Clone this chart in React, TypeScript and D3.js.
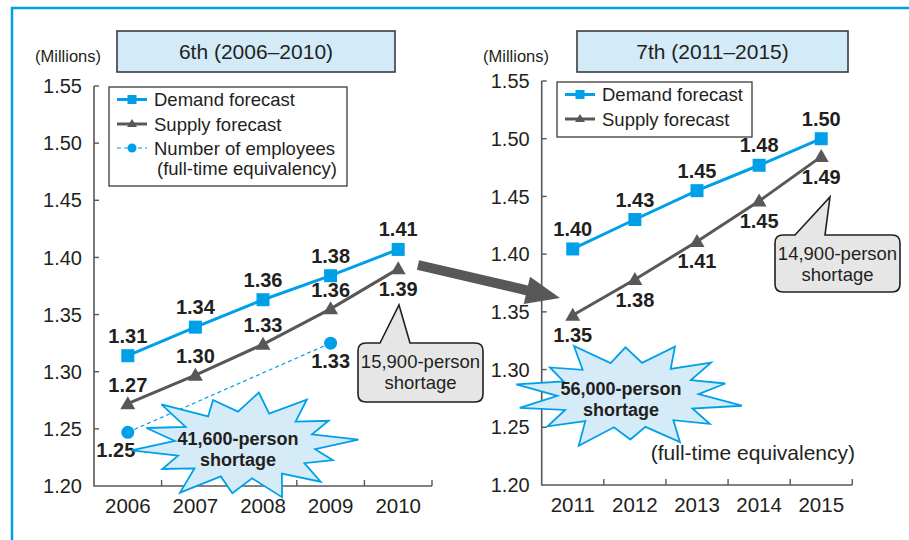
import React from "react";
import * as d3 from "d3";

// ---- data ----
const years6 = ["2006", "2007", "2008", "2009", "2010"];
const demand6 = [1.314, 1.339, 1.363, 1.384, 1.407];
const supply6 = [1.272, 1.297, 1.324, 1.355, 1.39];
const employeeYears6 = ["2006", "2009"];
const employees6 = [1.247, 1.325];
const demandLabels6 = ["1.31", "1.34", "1.36", "1.38", "1.41"];
const supplyLabels6 = ["1.27", "1.30", "1.33", "1.36", "1.39"];
const employeeLabels6 = ["1.25", "1.33"];

const years7 = ["2011", "2012", "2013", "2014", "2015"];
const demand7 = [1.4045, 1.43, 1.455, 1.477, 1.5];
const supply7 = [1.347, 1.378, 1.411, 1.446, 1.4845];
const demandLabels7 = ["1.40", "1.43", "1.45", "1.48", "1.50"];
const supplyLabels7 = ["1.35", "1.38", "1.41", "1.45", "1.49"];

const yTicks = [1.2, 1.25, 1.3, 1.35, 1.4, 1.45, 1.5, 1.55];

// label placement (layout, not data)
const supplyPlace6 = ["above", "above", "above", "above", "below"];
const supplyPlace7 = ["below", "below", "below", "below", "below"];
const employeeDx6 = [-12, 0];

const BLUE = "#00a0e9";
const GRAY = "#595757";
const TEXT = "#231f20";
const FONT = "'Liberation Sans', Arial, Helvetica, sans-serif";

function triPath(x: number, y: number) {
  return `M${x},${y - 7.5}L${x + 7.5},${y + 5.5}L${x - 7.5},${y + 5.5}Z`;
}

function starPath(cx: number, cy: number, rx: number, ry: number, spikes: number[], inner: number, rot: number) {
  const n = spikes.length;
  const pts: [number, number][] = [];
  for (let i = 0; i < n; i++) {
    const a = rot + (i / n) * Math.PI * 2;
    const a2 = rot + ((i + 0.5) / n) * Math.PI * 2;
    pts.push([cx + Math.cos(a) * rx * spikes[i], cy + Math.sin(a) * ry * spikes[i]]);
    pts.push([cx + Math.cos(a2) * rx * inner, cy + Math.sin(a2) * ry * inner]);
  }
  return "M" + pts.map((p) => p.join(",")).join("L") + "Z";
}

const spikesA = [1.0, 0.82, 0.95, 1.02, 0.9, 1.05, 0.85, 1.0, 0.92, 1.05, 0.88, 0.98, 1.0, 0.86];
const spikesB = [1.02, 0.9, 1.0, 0.84, 1.05, 0.92, 0.98, 1.0, 0.86, 1.04, 0.9, 1.0, 0.95, 0.88];

interface PanelProps {
  years: string[];
  xRange: [number, number];
  yRange: [number, number];
  demand: number[];
  supply: number[];
  demandLabels: string[];
  supplyLabels: string[];
  supplyPlace: string[];
  title: string;
  titleBox: [number, number, number, number];
  millionsX: number;
  legend: { x: number; y: number; w: number; h: number; withEmp: boolean };
  empYears?: string[];
  emp?: number[];
  empLabels?: string[];
}

function Panel(p: PanelProps) {
  const x = d3.scaleBand<string>().domain(p.years).range(p.xRange).padding(0);
  const y = d3.scaleLinear().domain([1.2, 1.55]).range(p.yRange);
  const cx = (yr: string) => (x(yr) as number) + x.bandwidth() / 2;
  const line = d3
    .line<[string, number]>()
    .x((d) => cx(d[0]))
    .y((d) => y(d[1]));
  const dPts = p.years.map((yr, i) => [yr, p.demand[i]] as [string, number]);
  const sPts = p.years.map((yr, i) => [yr, p.supply[i]] as [string, number]);
  const x0 = p.xRange[0];
  const x1 = p.xRange[1];
  const yBase = y(1.2);
  const lg = p.legend;
  const [tx, ty, tw, th] = p.titleBox;
  return (
    <g fontFamily={FONT}>
      {/* title box */}
      <rect x={tx} y={ty} width={tw} height={th} fill="#d3eaf8" stroke="#3e3a39" strokeWidth={1.6} />
      <text x={tx + tw / 2} y={ty + th / 2 + 7.5} textAnchor="middle" fontSize={21} fill={TEXT}>
        {p.title}
      </text>
      <text x={p.millionsX} y={62} textAnchor="middle" fontSize={16.5} fill={TEXT}>
        (Millions)
      </text>
      {/* axes */}
      <path d={`M${x0},${y(1.55)}V${yBase}H${x1}`} fill="none" stroke={GRAY} strokeWidth={1.6} />
      {yTicks.map((t) => (
        <g key={t}>
          {t > 1.2 && <line x1={x0} x2={x0 + 5} y1={y(t)} y2={y(t)} stroke={GRAY} strokeWidth={1.4} />}
          <text x={x0 - 12} y={y(t)} dy="0.36em" textAnchor="end" fontSize={20} fill={TEXT}>
            {t.toFixed(2)}
          </text>
        </g>
      ))}
      {p.years.map((yr) => (
        <g key={yr}>
          <line
            x1={(x(yr) as number) + x.bandwidth()}
            x2={(x(yr) as number) + x.bandwidth()}
            y1={yBase}
            y2={yBase - 6}
            stroke={GRAY}
            strokeWidth={1.4}
          />
          <text x={cx(yr)} y={yBase + 27} textAnchor="middle" fontSize={20.5} fill={TEXT}>
            {yr}
          </text>
        </g>
      ))}
      {/* legend */}
      <rect x={lg.x} y={lg.y} width={lg.w} height={lg.h} fill="#fff" stroke="#3e3a39" strokeWidth={1.3} />
      <line x1={lg.x + 8} x2={lg.x + 38} y1={lg.y + 12.5} y2={lg.y + 12.5} stroke={BLUE} strokeWidth={3} />
      <rect x={lg.x + 18.5} y={lg.y + 8} width={9} height={9} fill={BLUE} />
      <text x={lg.x + 45} y={lg.y + 12.5} dy="0.36em" fontSize={18.5} fill={TEXT}>
        Demand forecast
      </text>
      <line x1={lg.x + 8} x2={lg.x + 38} y1={lg.y + 37} y2={lg.y + 37} stroke={GRAY} strokeWidth={3} />
      <path d={`M${lg.x + 23},${lg.y + 32}L${lg.x + 28},${lg.y + 40}L${lg.x + 18},${lg.y + 40}Z`} fill={GRAY} />
      <text x={lg.x + 45} y={lg.y + 37} dy="0.36em" fontSize={18.5} fill={TEXT}>
        Supply forecast
      </text>
      {lg.withEmp && (
        <g>
          <line
            x1={lg.x + 8}
            x2={lg.x + 38}
            y1={lg.y + 61}
            y2={lg.y + 61}
            stroke={BLUE}
            strokeWidth={1.2}
            strokeDasharray="4,3"
          />
          <circle cx={lg.x + 23} cy={lg.y + 61} r={4.5} fill={BLUE} />
          <text x={lg.x + 45} y={lg.y + 61} dy="0.36em" fontSize={18.5} fill={TEXT}>
            Number of employees
          </text>
          <text x={lg.x + 48} y={lg.y + 81} dy="0.36em" fontSize={18.5} fill={TEXT}>
            (full-time equivalency)
          </text>
        </g>
      )}
      {/* employees dashed */}
      {p.empYears && p.emp && (
        <g>
          <path
            d={line(p.empYears.map((yr, i) => [yr, p.emp![i]] as [string, number])) || ""}
            fill="none"
            stroke={BLUE}
            strokeWidth={1.2}
            strokeDasharray="4,3"
          />
          {p.empYears.map((yr, i) => (
            <g key={yr}>
              <circle cx={cx(yr)} cy={y(p.emp![i])} r={6.5} fill={BLUE} />
              <text
                x={cx(yr) + employeeDx6[i]}
                y={y(p.emp![i]) + 25}
                textAnchor="middle"
                fontSize={20}
                fontWeight="bold"
                fill={TEXT}
              >
                {p.empLabels![i]}
              </text>
            </g>
          ))}
        </g>
      )}
      {/* supply */}
      <path d={line(sPts) || ""} fill="none" stroke={GRAY} strokeWidth={3} />
      {sPts.map((d, i) => (
        <g key={d[0]}>
          <path d={triPath(cx(d[0]), y(d[1]))} fill={GRAY} />
          <text
            x={cx(d[0])}
            y={y(d[1]) + (p.supplyPlace[i] === "above" ? -12 : 27)}
            textAnchor="middle"
            fontSize={20}
            fontWeight="bold"
            fill={TEXT}
          >
            {p.supplyLabels[i]}
          </text>
        </g>
      ))}
      {/* demand */}
      <path d={line(dPts) || ""} fill="none" stroke={BLUE} strokeWidth={3} />
      {dPts.map((d, i) => (
        <g key={d[0]}>
          <rect x={cx(d[0]) - 6.5} y={y(d[1]) - 6.5} width={13} height={13} fill={BLUE} />
          <text
            x={cx(d[0])}
            y={y(d[1]) - 13}
            textAnchor="middle"
            fontSize={20}
            fontWeight="bold"
            fill={TEXT}
          >
            {p.demandLabels[i]}
          </text>
        </g>
      ))}
    </g>
  );
}

function Callout({ x, y, w, h, bx0, bx1, tipX, tipY, lines }: any) {
  const r = 8;
  const d =
    `M${x + r},${y}H${bx0}L${tipX},${tipY}L${bx1},${y}H${x + w - r}` +
    `Q${x + w},${y} ${x + w},${y + r}V${y + h - r}Q${x + w},${y + h} ${x + w - r},${y + h}` +
    `H${x + r}Q${x},${y + h} ${x},${y + h - r}V${y + r}Q${x},${y} ${x + r},${y}Z`;
  return (
    <g fontFamily={FONT}>
      <path d={d} fill="#e6e6e6" stroke={TEXT} strokeWidth={1.6} />
      {lines.map((t: string, i: number) => (
        <text key={t} x={x + w / 2} y={y + 25 + i * 21} textAnchor="middle" fontSize={18.5} fill={TEXT}>
          {t}
        </text>
      ))}
    </g>
  );
}

function Burst({ cx, cy, rx, ry, spikes, rot, lines }: any) {
  return (
    <g fontFamily={FONT}>
      <path d={starPath(cx, cy, rx, ry, spikes, 0.62, rot)} fill="#d5ebf8" stroke={BLUE} strokeWidth={1.8} />
      {lines.map((t: string, i: number) => (
        <text
          key={t}
          x={cx - 7}
          y={cy + i * 21}
          textAnchor="middle"
          fontSize={18}
          fontWeight="bold"
          fill={TEXT}
        >
          {t}
        </text>
      ))}
    </g>
  );
}

function BigArrow({ x1, y1, x2, y2 }: any) {
  const ang = Math.atan2(y2 - y1, x2 - x1);
  const len = Math.hypot(x2 - x1, y2 - y1);
  const sw = 5;
  const hw = 14;
  const hl = 34;
  const pts = [
    [0, -sw],
    [len - hl, -sw],
    [len - hl, -hw],
    [len, 0],
    [len - hl, hw],
    [len - hl, sw],
    [0, sw],
  ].map(([u, v]) => [x1 + u * Math.cos(ang) - v * Math.sin(ang), y1 + u * Math.sin(ang) + v * Math.cos(ang)]);
  return <path d={"M" + pts.map((p) => p.join(",")).join("L") + "Z"} fill={GRAY} />;
}

export default function App() {
  return (
    <svg width={909} height={540} style={{ position: "absolute", left: 0, top: 0, background: "#fff" }}>
      <rect x={0} y={0} width={909} height={540} fill="#fff" />
      <rect x={12} y={8} width={960} height={600} fill="none" stroke={BLUE} strokeWidth={2.5} />
      <Panel
        years={years6}
        xRange={[94, 432]}
        yRange={[486, 86]}
        demand={demand6}
        supply={supply6}
        demandLabels={demandLabels6}
        supplyLabels={supplyLabels6}
        supplyPlace={supplyPlace6}
        title="6th (2006–2010)"
        titleBox={[117, 31, 278, 41]}
        millionsX={68}
        legend={{ x: 109, y: 87, w: 238, h: 99, withEmp: true }}
        empYears={employeeYears6}
        emp={employees6}
        empLabels={employeeLabels6}
      />
      <Panel
        years={years7}
        xRange={[541.7, 852.3]}
        yRange={[485, 81]}
        demand={demand7}
        supply={supply7}
        demandLabels={demandLabels7}
        supplyLabels={supplyLabels7}
        supplyPlace={supplyPlace7}
        title="7th (2011–2015)"
        titleBox={[577, 31, 271, 41]}
        millionsX={516}
        legend={{ x: 557, y: 82, w: 195, h: 55, withEmp: false }}
      />
      <BigArrow x1={418} y1={265} x2={560} y2={298} />
      <Callout x={358} y={343} w={125} h={59} bx0={380} bx1={410} tipX={399} tipY={305} lines={["15,900-person", "shortage"]} />
      <Callout x={775} y={235} w={125} h={57} bx0={795} bx1={825} tipX={830} tipY={197} lines={["14,900-person", "shortage"]} />
      <Burst cx={245} cy={445} rx={114} ry={54} spikes={spikesA} rot={-0.1} lines={["41,600-person", "shortage"]} />
      <Burst cx={628} cy={395} rx={114} ry={53} spikes={spikesB} rot={0.2} lines={["56,000-person", "shortage"]} />
      <text x={855} y={460} textAnchor="end" fontFamily={FONT} fontSize={21} fill={TEXT}>
        (full-time equivalency)
      </text>
    </svg>
  );
}
